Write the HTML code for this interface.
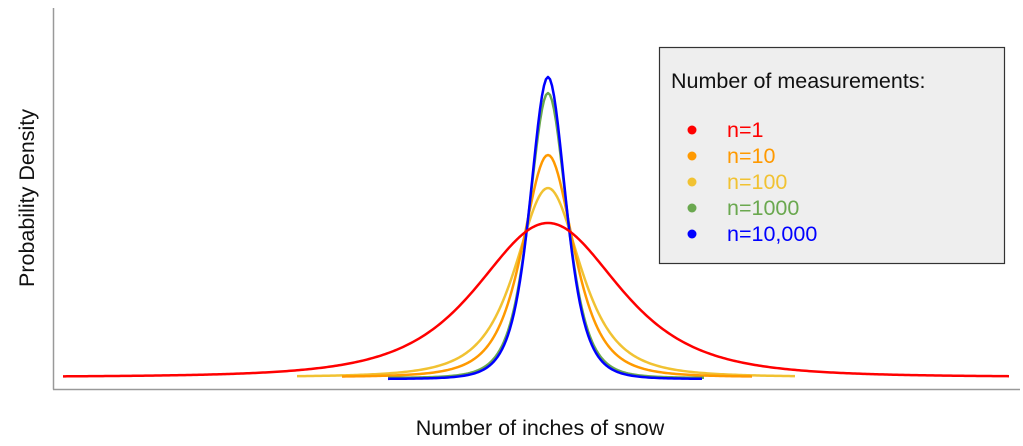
<!DOCTYPE html>
<html><head><style>
body{margin:0;background:#fff;}
svg{display:block;font-family:"Liberation Sans",Arial,sans-serif;}
</style></head><body>
<svg id="s" width="1023" height="446" viewBox="0 0 1023 446">
<line x1="53.5" y1="8" x2="53.5" y2="389.5" stroke="#999" stroke-width="1.5"/>
<line x1="53" y1="389.5" x2="1020" y2="389.5" stroke="#999" stroke-width="1.5"/>
<g id="curves" fill="none" stroke-width="2.5" stroke-linejoin="round"></g>
<rect x="659.5" y="47.5" width="345" height="216" fill="#eeeeee" stroke="#333" stroke-width="1.2"/>
<text x="671" y="88" font-size="21.5" fill="#111">Number of measurements:</text>
<g font-size="21.5">
<circle cx="692" cy="130" r="4.5" fill="#ff0000"/><text x="727" y="137" fill="#ff0000">n=1</text>
<circle cx="692" cy="156" r="4.5" fill="#ff9900"/><text x="727" y="163" fill="#ff9900">n=10</text>
<circle cx="692" cy="182" r="4.5" fill="#f1c232"/><text x="727" y="189" fill="#f1c232">n=100</text>
<circle cx="692" cy="208" r="4.5" fill="#6aa84f"/><text x="727" y="215" fill="#6aa84f">n=1000</text>
<circle cx="692" cy="234" r="4.5" fill="#0000ff"/><text x="727" y="241" fill="#0000ff">n=10,000</text>
</g>
<text x="540" y="435" font-size="21.5" text-anchor="middle" fill="#111">Number of inches of snow</text>
<text transform="translate(34,198) rotate(-90)" font-size="21.5" text-anchor="middle" fill="#111">Probability Density</text>
</svg>
<script>
var c=548;
var defs=[
 ["#f1c232",297,795,188,377,38,2.5],
 ["#ff9900",342,752,155,377,30,3],
 ["#6aa84f",388,705,93,378,22,4],
 ["#0000ff",388,703,77,379,21,4],
 ["#ff0000",63,1010,223,377,83,3]
];
var g=document.getElementById("curves"),h="";
defs.forEach(function(d){
 var col=d[0],x0=d[1],x1=d[2],pk=d[3],base=d[4],hw=d[5],nu=d[6];
 var H=base-pk;
 var k=Math.pow(2,2/(nu+1))-1;
 var p="";
 for(var x=x0;x<=x1;x+=2){
  var t=(x-c)/hw;
  var f=Math.pow(1+k*t*t,-(nu+1)/2);
  var y=base-H*f;
  p+=(p?"L":"M")+x+","+y.toFixed(2);
 }
 h+='<path d="'+p+'" stroke="'+col+'"/>';
});
g.innerHTML=h;
</script>
</body></html>
